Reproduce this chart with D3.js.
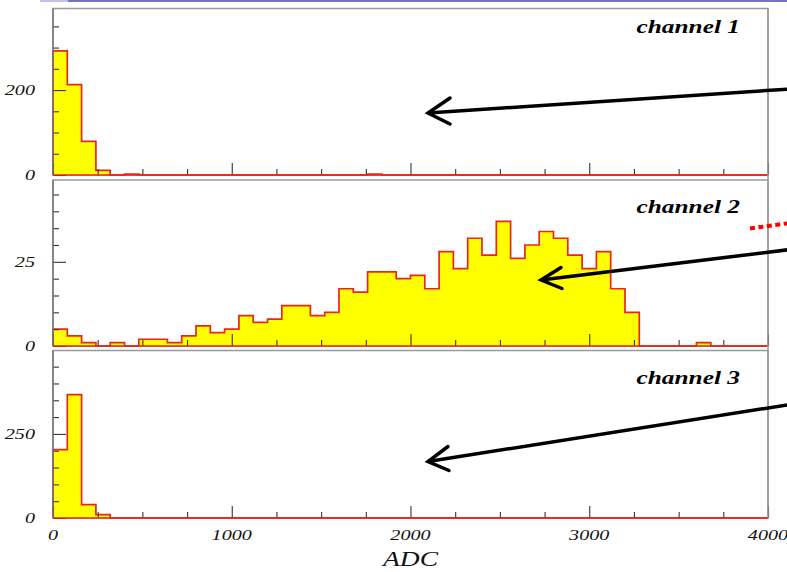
<!DOCTYPE html>
<html><head><meta charset="utf-8">
<script src="https://cdn.jsdelivr.net/npm/d3@7"></script>
<style>html,body{margin:0;padding:0;background:#fff;} svg{display:block}</style>
</head><body><svg id="chart" width="787" height="572"></svg>
<script>
// ADC spectra, 50 bins of 80 counts each over 0..4000
const binWidth = 80;
const adcRange = [0, 4000];
const channel1 = [292, 213, 79, 11, 0, 2, 0, 0, 0, 0, 0, 0, 0, 0, 0, 0, 0, 0, 0, 0, 0, 0, 2, 0, 0,
                  0, 0, 0, 0, 0, 0, 0, 0, 0, 0, 0, 0, 0, 0, 0, 0, 0, 0, 0, 0, 0, 0, 0, 0, 0];
const channel2 = [5, 3, 1, 0, 1, 0, 2, 2, 1, 3, 6, 4, 5, 9, 7, 8, 12, 12, 9, 10, 17, 16, 22, 22, 20,
                  21, 17, 28, 23, 32, 27, 37, 26, 30, 34, 32, 27, 23, 28, 17, 10, 0, 0, 0, 0, 1, 0, 0, 0, 0];
const channel3 = [203, 367, 40, 10, 0, 0, 0, 0, 0, 0, 0, 0, 0, 0, 0, 0, 0, 0, 0, 0, 0, 0, 0, 0, 0,
                  0, 0, 0, 0, 0, 0, 0, 0, 0, 0, 0, 0, 0, 0, 0, 0, 0, 0, 0, 0, 0, 0, 0, 0, 0];
const channelNames = ["channel 1", "channel 2", "channel 3"];
const xMajorTicks = [0, 1000, 2000, 3000, 4000];
const xMinorStep = 250;
const yMajorTicks = [[0, 200], [0, 25], [0, 250]];
const yMinorStep = [50, 5, 50];
const yMax = [392, 49.3, 498];
const xTitle = "ADC";

const series = [channel1, channel2, channel3];
const svg = d3.select("#chart");

const left = 53, right = 768;
const panels = [
  {top: 8.5, bottom: 175, labelY: 33},
  {top: 180, bottom: 346, labelY: 212.5},
  {top: 350.5, bottom: 518, labelY: 383.5}
];

const x = d3.scaleLinear().domain(adcRange).range([left, right]);
const xMinor = d3.range(adcRange[0], adcRange[1] + 1, xMinorStep).filter(v => v % 1000 !== 0);

const serif = "'Liberation Serif', 'DejaVu Serif', serif";
const stretch = 1.3;

// slide header rule
svg.append("rect").attr("x", 40).attr("y", 0).attr("width", 28).attr("height", 2).attr("fill", "#c4c4e6");
svg.append("rect").attr("x", 68).attr("y", 0).attr("width", 719).attr("height", 2).attr("fill", "#7474bf");

panels.forEach((p, k) => {
  const y = d3.scaleLinear().domain([0, yMax[k]]).range([p.bottom, p.top]);
  const g = svg.append("g");

  // frame
  g.append("rect").attr("x", left).attr("y", p.top).attr("width", right - left)
    .attr("height", p.bottom - p.top).attr("fill", "#fff").attr("stroke", "#999").attr("stroke-width", 1.5);

  // histogram outline as steps
  const data = series[k];
  const pts = [[adcRange[0], 0]];
  data.forEach((v, i) => {
    pts.push([i * binWidth, v]);
    pts.push([(i + 1) * binWidth, v]);
  });
  pts.push([adcRange[1], 0]);
  const line = d3.line().x(d => x(d[0])).y(d => y(d[1]));
  g.append("path").attr("d", line(pts) + "Z").attr("fill", "#ffff00").attr("stroke", "none");
  g.append("path").attr("d", line(pts)).attr("fill", "none").attr("stroke", "#e8261a")
    .attr("stroke-width", 1.7).attr("stroke-linejoin", "miter");

  // x axis ticks, pointing up from the zero line
  const xMinAxis = d3.axisBottom(x).tickValues(xMinor).tickSize(-6).tickFormat("");
  const xMajAxis = d3.axisBottom(x).tickValues(xMajorTicks).tickSize(-12).tickFormat("");
  [xMinAxis, xMajAxis].forEach(ax => {
    const a = g.append("g").attr("transform", `translate(0,${p.bottom})`).call(ax);
    a.select(".domain").remove();
    a.selectAll("line").attr("stroke", "#333").attr("stroke-width", 1.1);
  });

  // y axis ticks, pointing right from the left edge
  const yMinorVals = d3.range(0, yMax[k], yMinorStep[k]).filter(v => !yMajorTicks[k].includes(v));
  const yMinAxis = d3.axisLeft(y).tickValues(yMinorVals).tickSize(-6).tickFormat("");
  const yMajAxis = d3.axisLeft(y).tickValues(yMajorTicks[k]).tickSize(-13).tickFormat("");
  [yMinAxis, yMajAxis].forEach(ax => {
    const a = g.append("g").attr("transform", `translate(${left},0)`).call(ax);
    a.select(".domain").remove();
    a.selectAll("line").attr("stroke", "#333").attr("stroke-width", 1.1);
  });

  // y tick labels
  yMajorTicks[k].forEach(v => {
    g.append("text")
      .attr("transform", `translate(35,${y(v) + 5}) scale(${stretch},1)`)
      .attr("text-anchor", "end")
      .attr("font-family", serif).attr("font-style", "italic").attr("font-size", 15.5)
      .attr("fill", "#111").text(v);
  });

  // zero line and left edge on top
  g.append("line").attr("x1", left).attr("x2", right).attr("y1", p.bottom).attr("y2", p.bottom)
    .attr("stroke", "#e8261a").attr("stroke-width", 1.7);
  g.append("line").attr("x1", left).attr("x2", left).attr("y1", p.top).attr("y2", p.bottom)
    .attr("stroke", "#777").attr("stroke-width", 1.5);

  // channel label
  g.append("text")
    .attr("transform", `translate(${right - 28},${p.labelY}) scale(${stretch},1)`)
    .attr("text-anchor", "end")
    .attr("font-family", serif).attr("font-style", "italic").attr("font-weight", "bold")
    .attr("font-size", 19.5).attr("fill", "#000").text(channelNames[k]);
});

// continuous right edge
svg.append("line").attr("x1", right).attr("x2", right).attr("y1", panels[0].top).attr("y2", panels[2].bottom)
  .attr("stroke", "#999").attr("stroke-width", 1.5);

// x tick labels on the bottom panel
xMajorTicks.forEach(v => {
  svg.append("text")
    .attr("transform", `translate(${x(v)},540) scale(${stretch},1)`)
    .attr("text-anchor", "middle")
    .attr("font-family", serif).attr("font-style", "italic").attr("font-size", 15.5)
    .attr("fill", "#111").text(v);
});
svg.append("text")
  .attr("transform", `translate(${x(2000)},566) scale(1.25,1)`)
  .attr("text-anchor", "middle")
  .attr("font-family", serif).attr("font-style", "italic").attr("font-size", 22)
  .attr("fill", "#111").text(xTitle);

// annotation arrows pointing into each panel
const arrows = [
  {from: [790, 89], to: [428, 113], a1: [450, 98], a2: [450, 124]},
  {from: [790, 249.5], to: [541, 280], a1: [561, 267.5], a2: [562, 288.5]},
  {from: [790, 404.5], to: [428, 461.5], a1: [448, 446.5], a2: [449, 470.5]}
];
arrows.forEach(a => {
  svg.append("line").attr("x1", a.from[0]).attr("y1", a.from[1]).attr("x2", a.to[0]).attr("y2", a.to[1])
    .attr("stroke", "#000").attr("stroke-width", 3.5);
  svg.append("polyline").attr("points", [a.a1, a.to, a.a2].map(d => d.join(",")).join(" "))
    .attr("fill", "none").attr("stroke", "#000").attr("stroke-width", 3.5)
    .attr("stroke-linejoin", "miter").attr("stroke-linecap", "round");
});

// red dotted marker at the right edge
svg.append("line").attr("x1", 750).attr("y1", 228.5).attr("x2", 790).attr("y2", 223)
  .attr("stroke", "#f00").attr("stroke-width", 4).attr("stroke-dasharray", "5,3.5");
</script>
</body></html>
